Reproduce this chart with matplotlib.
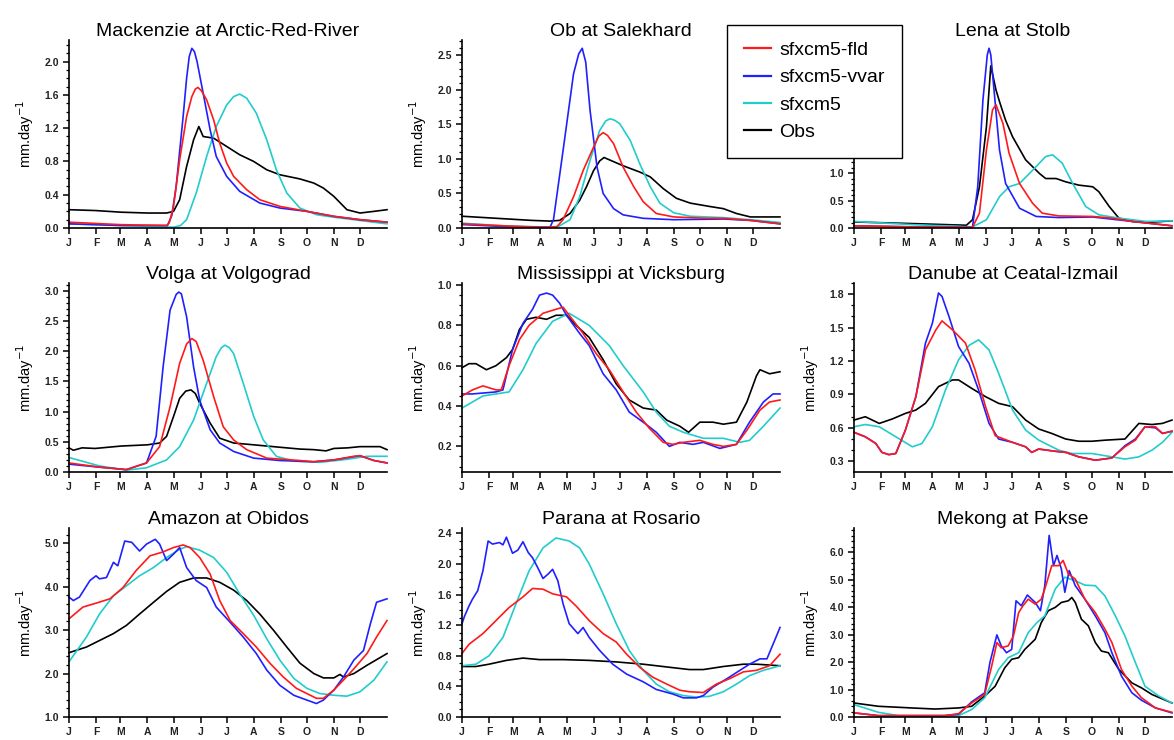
import matplotlib
matplotlib.use("Agg")
import matplotlib.pyplot as plt
from matplotlib.ticker import MultipleLocator, FixedLocator, FormatStrFormatter
from matplotlib.lines import Line2D

plt.rcParams['font.family'] = ['Liberation Sans', 'DejaVu Sans']

# month tick positions (day of year) and labels
month_days = [0, 31, 59, 90, 120, 151, 181, 212, 243, 273, 304, 334]
month_labels = ['J', 'F', 'M', 'A', 'M', 'J', 'J', 'A', 'S', 'O', 'N', 'D']

# ---- Mackenzie at Arctic-Red-River
mack_fld_x = [0, 60, 112, 115, 120, 127, 135, 141, 145, 148, 152, 158, 166, 173, 181, 189, 204, 219, 242, 273, 304, 334, 365]
mack_fld = [0.07, 0.04, 0.03, 0.06, 0.26, 0.82, 1.34, 1.58, 1.67, 1.69, 1.65, 1.54, 1.30, 1.02, 0.78, 0.62, 0.46, 0.34, 0.26, 0.20, 0.14, 0.10, 0.07]
mack_vvar_x = [0, 60, 113, 118, 123, 131, 135, 138, 141, 144, 147, 154, 162, 169, 181, 196, 219, 242, 273, 304, 334, 365]
mack_vvar = [0.05, 0.03, 0.03, 0.15, 0.50, 1.34, 1.80, 2.06, 2.16, 2.12, 2.00, 1.62, 1.18, 0.86, 0.62, 0.44, 0.30, 0.24, 0.20, 0.14, 0.10, 0.07]
mack_cm5_x = [0, 60, 120, 128, 135, 146, 158, 169, 181, 189, 196, 204, 215, 227, 238, 250, 265, 284, 304, 334, 365]
mack_cm5 = [0.05, 0.03, 0.01, 0.03, 0.10, 0.42, 0.86, 1.22, 1.48, 1.58, 1.61, 1.56, 1.38, 1.06, 0.70, 0.42, 0.24, 0.16, 0.13, 0.09, 0.05]
mack_obs_x = [0, 30, 60, 90, 112, 120, 127, 135, 143, 149, 154, 166, 181, 196, 212, 227, 242, 265, 281, 292, 304, 319, 334, 350, 365]
mack_obs = [0.22, 0.21, 0.19, 0.18, 0.18, 0.20, 0.34, 0.74, 1.06, 1.22, 1.10, 1.08, 0.98, 0.88, 0.80, 0.70, 0.64, 0.59, 0.54, 0.48, 0.38, 0.22, 0.18, 0.20, 0.22]

# ---- Ob at Salekhard
ob_fld_x = [0, 50, 93, 109, 116, 128, 139, 151, 157, 162, 167, 174, 185, 197, 208, 223, 243, 281, 300, 331, 365]
ob_fld = [0.06, 0.03, 0.01, 0.02, 0.12, 0.45, 0.83, 1.17, 1.33, 1.38, 1.34, 1.22, 0.88, 0.60, 0.38, 0.21, 0.16, 0.14, 0.14, 0.11, 0.06]
ob_vvar_x = [0, 50, 101, 105, 116, 128, 134, 138, 142, 147, 155, 162, 174, 185, 208, 243, 300, 331, 365]
ob_vvar = [0.05, 0.02, 0.01, 0.12, 1.12, 2.23, 2.52, 2.60, 2.40, 1.70, 0.88, 0.50, 0.28, 0.19, 0.14, 0.12, 0.13, 0.11, 0.06]
ob_cm5_x = [0, 50, 109, 124, 135, 147, 158, 165, 170, 175, 181, 193, 204, 216, 227, 243, 262, 300, 331, 365]
ob_cm5 = [0.07, 0.03, 0.01, 0.12, 0.45, 0.98, 1.41, 1.55, 1.58, 1.56, 1.51, 1.27, 0.93, 0.60, 0.36, 0.22, 0.17, 0.15, 0.12, 0.08]
ob_obs_x = [0, 40, 80, 101, 112, 124, 135, 143, 151, 158, 163, 185, 204, 216, 231, 246, 262, 285, 300, 315, 331, 365]
ob_obs = [0.17, 0.14, 0.11, 0.10, 0.11, 0.21, 0.40, 0.60, 0.83, 0.97, 1.02, 0.90, 0.81, 0.74, 0.57, 0.43, 0.36, 0.31, 0.28, 0.21, 0.16, 0.16]

# ---- Lena at Stolb
lena_fld_x = [0, 68, 136, 144, 152, 159, 163, 171, 178, 190, 205, 216, 235, 274, 296, 319, 365]
lena_fld = [0.04, 0.02, 0.01, 0.27, 1.42, 2.15, 2.24, 1.90, 1.36, 0.81, 0.45, 0.27, 0.22, 0.21, 0.18, 0.12, 0.04]
lena_vvar_x = [0, 68, 136, 142, 148, 153, 155, 157, 159, 167, 174, 190, 209, 235, 274, 319, 365]
lena_vvar = [0.04, 0.02, 0.01, 0.75, 2.33, 3.15, 3.27, 3.15, 2.81, 1.42, 0.81, 0.36, 0.21, 0.19, 0.20, 0.12, 0.04]
lena_cm5_x = [0, 68, 136, 152, 167, 178, 190, 205, 220, 228, 239, 251, 266, 281, 304, 335, 365]
lena_cm5 = [0.12, 0.06, 0.02, 0.15, 0.57, 0.75, 0.81, 1.05, 1.30, 1.33, 1.18, 0.81, 0.39, 0.24, 0.18, 0.12, 0.13]
lena_obs_x = [0, 68, 129, 136, 144, 152, 157, 163, 167, 174, 182, 197, 213, 220, 232, 243, 258, 274, 281, 293, 304, 319, 335, 365]
lena_obs = [0.11, 0.08, 0.05, 0.15, 0.75, 1.84, 2.95, 2.51, 2.30, 1.96, 1.66, 1.24, 0.99, 0.90, 0.90, 0.84, 0.78, 0.75, 0.66, 0.39, 0.18, 0.12, 0.10, 0.13]

# ---- Volga at Volgograd
volga_fld_x = [0, 35, 66, 89, 104, 116, 127, 135, 141, 146, 154, 166, 177, 189, 204, 227, 265, 281, 304, 327, 334, 350, 365]
volga_fld = [0.15, 0.08, 0.04, 0.15, 0.42, 1.08, 1.80, 2.12, 2.21, 2.16, 1.85, 1.25, 0.75, 0.53, 0.37, 0.23, 0.19, 0.17, 0.20, 0.26, 0.27, 0.19, 0.15]
volga_vvar_x = [0, 35, 66, 89, 100, 108, 116, 123, 126, 129, 135, 143, 150, 162, 173, 189, 212, 242, 281, 304, 334, 350, 365]
volga_vvar = [0.13, 0.08, 0.04, 0.15, 0.59, 1.74, 2.68, 2.94, 2.98, 2.95, 2.57, 1.74, 1.19, 0.70, 0.48, 0.34, 0.23, 0.19, 0.17, 0.20, 0.27, 0.19, 0.15]
volga_cm5_x = [0, 35, 66, 89, 112, 127, 143, 158, 169, 175, 179, 184, 189, 200, 212, 223, 238, 258, 288, 319, 342, 365]
volga_cm5 = [0.24, 0.10, 0.03, 0.07, 0.20, 0.42, 0.86, 1.47, 1.91, 2.06, 2.10, 2.06, 1.96, 1.47, 0.92, 0.53, 0.26, 0.18, 0.16, 0.21, 0.26, 0.26]
volga_obs_x = [0, 5, 15, 30, 45, 60, 75, 90, 104, 112, 120, 127, 134, 140, 145, 150, 162, 173, 189, 212, 242, 265, 281, 295, 304, 320, 334, 357, 365]
volga_obs = [0.40, 0.36, 0.40, 0.39, 0.41, 0.43, 0.44, 0.45, 0.48, 0.59, 0.92, 1.22, 1.34, 1.36, 1.30, 1.14, 0.81, 0.56, 0.48, 0.45, 0.41, 0.38, 0.37, 0.35, 0.39, 0.40, 0.42, 0.42, 0.37]

# ---- Mississippi at Vicksburg
miss_fld_x = [0, 12, 24, 39, 45, 54, 66, 77, 93, 108, 116, 123, 139, 154, 169, 185, 200, 215, 231, 242, 254, 273, 288, 300, 315, 327, 342, 353, 365]
miss_fld = [0.45, 0.48, 0.50, 0.48, 0.48, 0.60, 0.73, 0.80, 0.86, 0.88, 0.89, 0.85, 0.76, 0.66, 0.58, 0.47, 0.37, 0.29, 0.22, 0.21, 0.22, 0.23, 0.21, 0.20, 0.21, 0.28, 0.38, 0.42, 0.43]
miss_vvar_x = [0, 12, 39, 47, 58, 70, 81, 89, 97, 104, 112, 120, 135, 146, 162, 177, 192, 208, 223, 238, 250, 265, 277, 296, 315, 330, 346, 357, 365]
miss_vvar = [0.46, 0.46, 0.47, 0.48, 0.68, 0.81, 0.88, 0.95, 0.96, 0.95, 0.91, 0.85, 0.76, 0.70, 0.56, 0.48, 0.37, 0.32, 0.27, 0.20, 0.22, 0.21, 0.22, 0.19, 0.21, 0.32, 0.42, 0.46, 0.46]
miss_cm5_x = [0, 24, 39, 54, 70, 85, 104, 123, 146, 169, 185, 208, 223, 238, 254, 277, 300, 319, 330, 346, 365]
miss_cm5 = [0.39, 0.45, 0.46, 0.47, 0.58, 0.71, 0.82, 0.86, 0.80, 0.70, 0.60, 0.47, 0.37, 0.30, 0.27, 0.24, 0.24, 0.22, 0.23, 0.30, 0.39]
miss_obs_x = [0, 8, 16, 28, 39, 51, 58, 66, 74, 85, 97, 108, 120, 131, 146, 162, 177, 192, 208, 223, 235, 250, 260, 273, 288, 300, 315, 327, 338, 342, 353, 365]
miss_obs = [0.59, 0.61, 0.61, 0.58, 0.60, 0.64, 0.68, 0.78, 0.83, 0.84, 0.83, 0.85, 0.85, 0.80, 0.74, 0.63, 0.51, 0.43, 0.39, 0.38, 0.33, 0.30, 0.27, 0.32, 0.32, 0.31, 0.32, 0.42, 0.55, 0.58, 0.56, 0.57]

# ---- Danube at Ceatal-Izmail
dan_fld_x = [0, 13, 25, 32, 40, 48, 59, 71, 82, 94, 101, 113, 128, 139, 151, 162, 182, 197, 204, 212, 231, 243, 258, 277, 296, 311, 323, 334, 346, 354, 365]
dan_fld = [0.56, 0.52, 0.46, 0.38, 0.36, 0.37, 0.58, 0.88, 1.30, 1.48, 1.56, 1.48, 1.36, 1.12, 0.79, 0.53, 0.47, 0.43, 0.38, 0.41, 0.39, 0.38, 0.34, 0.31, 0.33, 0.43, 0.49, 0.61, 0.61, 0.55, 0.57]
dan_vvar_x = [0, 13, 25, 32, 40, 48, 59, 71, 82, 90, 97, 101, 109, 120, 132, 143, 155, 166, 182, 197, 204, 212, 231, 243, 258, 277, 296, 311, 323, 334, 346, 354, 365]
dan_vvar = [0.56, 0.52, 0.46, 0.38, 0.36, 0.37, 0.58, 0.88, 1.36, 1.54, 1.81, 1.78, 1.60, 1.33, 1.18, 0.94, 0.64, 0.50, 0.47, 0.43, 0.38, 0.41, 0.39, 0.38, 0.34, 0.31, 0.33, 0.44, 0.50, 0.61, 0.60, 0.55, 0.57]
dan_cm5_x = [0, 13, 29, 48, 67, 78, 90, 105, 120, 132, 143, 155, 166, 182, 197, 212, 235, 250, 273, 296, 311, 327, 342, 354, 365]
dan_cm5 = [0.61, 0.63, 0.61, 0.52, 0.43, 0.46, 0.61, 0.94, 1.21, 1.34, 1.39, 1.30, 1.09, 0.76, 0.58, 0.49, 0.40, 0.37, 0.37, 0.34, 0.32, 0.34, 0.40, 0.47, 0.56]
dan_obs_x = [0, 13, 29, 44, 59, 71, 82, 97, 113, 120, 136, 151, 166, 182, 197, 212, 227, 243, 258, 273, 289, 311, 327, 342, 354, 365]
dan_obs = [0.67, 0.70, 0.64, 0.68, 0.73, 0.76, 0.82, 0.97, 1.03, 1.03, 0.95, 0.88, 0.82, 0.79, 0.67, 0.59, 0.55, 0.50, 0.48, 0.48, 0.49, 0.50, 0.64, 0.63, 0.64, 0.67]

# ---- Amazon at Obidos
amaz_fld_x = [0, 16, 31, 47, 62, 77, 93, 108, 120, 131, 139, 150, 162, 173, 185, 200, 215, 231, 246, 261, 273, 284, 292, 304, 315, 327, 342, 353, 365]
amaz_fld = [3.26, 3.53, 3.62, 3.72, 3.98, 4.37, 4.71, 4.80, 4.90, 4.96, 4.90, 4.67, 4.29, 3.68, 3.22, 2.92, 2.61, 2.23, 1.92, 1.66, 1.54, 1.43, 1.43, 1.62, 1.85, 2.11, 2.46, 2.84, 3.22]
amaz_vvar_x = [0, 5, 12, 24, 31, 35, 43, 51, 56, 64, 72, 81, 89, 99, 104, 112, 120, 127, 135, 146, 158, 169, 185, 200, 215, 227, 242, 258, 273, 284, 292, 304, 315, 327, 338, 346, 353, 365]
amaz_vvar = [3.76, 3.68, 3.76, 4.14, 4.25, 4.18, 4.21, 4.56, 4.48, 5.05, 5.02, 4.82, 4.98, 5.09, 4.98, 4.60, 4.75, 4.90, 4.44, 4.14, 3.98, 3.53, 3.18, 2.84, 2.46, 2.08, 1.73, 1.50, 1.39, 1.31, 1.39, 1.62, 1.92, 2.31, 2.53, 3.15, 3.64, 3.72]
amaz_cm5_x = [0, 20, 35, 51, 66, 81, 97, 112, 127, 135, 150, 166, 181, 196, 212, 227, 242, 258, 273, 288, 304, 319, 334, 350, 365]
amaz_cm5 = [2.27, 2.84, 3.37, 3.79, 4.02, 4.25, 4.44, 4.67, 4.86, 4.92, 4.84, 4.67, 4.33, 3.83, 3.34, 2.80, 2.31, 1.89, 1.66, 1.54, 1.50, 1.48, 1.58, 1.85, 2.27]
amaz_obs_x = [0, 20, 35, 51, 66, 81, 97, 112, 127, 143, 158, 173, 189, 204, 219, 235, 250, 265, 281, 292, 304, 311, 315, 327, 342, 365]
amaz_obs = [2.48, 2.61, 2.76, 2.92, 3.11, 3.37, 3.64, 3.89, 4.10, 4.20, 4.20, 4.10, 3.92, 3.68, 3.37, 2.99, 2.61, 2.24, 2.00, 1.90, 1.90, 1.98, 1.92, 2.00, 2.19, 2.46]

# ---- Parana at Rosario
par_fld_x = [0, 8, 24, 39, 54, 70, 81, 93, 104, 120, 131, 146, 162, 177, 189, 204, 219, 235, 250, 261, 277, 292, 307, 323, 338, 353, 365]
par_fld = [0.83, 0.95, 1.09, 1.26, 1.43, 1.57, 1.68, 1.67, 1.61, 1.57, 1.45, 1.26, 1.09, 0.98, 0.82, 0.65, 0.52, 0.43, 0.35, 0.33, 0.32, 0.43, 0.50, 0.59, 0.61, 0.67, 0.82]
par_vvar_x = [0, 3, 8, 12, 18, 24, 30, 35, 43, 47, 51, 58, 64, 70, 76, 81, 87, 93, 99, 104, 110, 116, 123, 133, 139, 146, 158, 173, 189, 208, 223, 242, 254, 269, 277, 288, 304, 319, 330, 342, 350, 357, 365]
par_vvar = [1.22, 1.32, 1.45, 1.54, 1.65, 1.91, 2.30, 2.26, 2.28, 2.25, 2.35, 2.14, 2.18, 2.29, 2.15, 2.08, 1.95, 1.81, 1.87, 1.93, 1.78, 1.48, 1.22, 1.09, 1.17, 1.04, 0.87, 0.69, 0.56, 0.46, 0.36, 0.30, 0.25, 0.25, 0.28, 0.39, 0.50, 0.61, 0.69, 0.76, 0.76, 0.95, 1.17]
par_cm5_x = [0, 16, 31, 47, 62, 77, 93, 108, 123, 135, 146, 162, 177, 192, 208, 223, 238, 254, 269, 284, 300, 315, 330, 346, 365]
par_cm5 = [0.67, 0.69, 0.80, 1.04, 1.48, 1.91, 2.21, 2.34, 2.30, 2.21, 2.00, 1.61, 1.22, 0.87, 0.61, 0.43, 0.33, 0.28, 0.26, 0.27, 0.33, 0.43, 0.54, 0.61, 0.67]
par_obs_x = [0, 16, 31, 51, 70, 89, 116, 146, 177, 208, 238, 261, 277, 300, 323, 338, 365]
par_obs = [0.66, 0.66, 0.69, 0.74, 0.77, 0.75, 0.75, 0.74, 0.72, 0.69, 0.65, 0.62, 0.62, 0.66, 0.69, 0.69, 0.67]

# ---- Mekong at Pakse
mek_fld_x = [0, 28, 104, 120, 135, 150, 158, 164, 169, 177, 183, 189, 194, 200, 208, 215, 219, 227, 235, 240, 246, 254, 265, 277, 288, 296, 307, 319, 330, 346, 365]
mek_fld = [0.15, 0.05, 0.05, 0.12, 0.51, 0.82, 1.85, 2.71, 2.52, 2.59, 2.95, 3.80, 4.05, 4.29, 4.11, 4.29, 4.66, 5.51, 5.51, 5.70, 5.21, 5.02, 4.29, 3.80, 3.20, 2.71, 1.73, 1.12, 0.70, 0.33, 0.17]
mek_vvar_x = [0, 28, 104, 120, 135, 150, 156, 164, 169, 175, 181, 186, 192, 199, 208, 214, 219, 224, 229, 233, 238, 242, 247, 254, 265, 277, 288, 296, 307, 319, 330, 346, 365]
mek_vvar = [0.15, 0.05, 0.05, 0.10, 0.55, 0.88, 1.98, 2.99, 2.59, 2.34, 2.46, 4.23, 4.05, 4.44, 4.17, 3.87, 4.78, 6.61, 5.51, 5.88, 5.39, 4.54, 5.33, 4.78, 4.29, 3.68, 3.07, 2.34, 1.49, 0.88, 0.61, 0.33, 0.15]
mek_cm5_x = [0, 28, 51, 120, 135, 150, 166, 177, 189, 200, 210, 219, 231, 242, 254, 265, 277, 288, 300, 311, 323, 334, 350, 365]
mek_cm5 = [0.45, 0.17, 0.05, 0.05, 0.27, 0.70, 1.73, 2.16, 2.34, 3.07, 3.44, 3.68, 4.66, 5.09, 4.96, 4.80, 4.78, 4.41, 3.68, 2.95, 1.98, 1.12, 0.76, 0.51]
mek_obs_x = [0, 28, 66, 93, 120, 135, 150, 162, 173, 181, 189, 196, 208, 215, 223, 231, 238, 246, 250, 254, 261, 269, 277, 284, 292, 304, 319, 330, 342, 365]
mek_obs = [0.51, 0.39, 0.33, 0.29, 0.33, 0.39, 0.76, 1.12, 1.79, 2.10, 2.16, 2.46, 2.83, 3.44, 3.87, 3.99, 4.17, 4.23, 4.35, 4.17, 3.56, 3.32, 2.71, 2.40, 2.34, 1.73, 1.24, 1.06, 0.82, 0.51]

titles = ["Mackenzie at Arctic-Red-River", "Ob at Salekhard", "Lena at Stolb",
          "Volga at Volgograd", "Mississippi at Vicksburg", "Danube at Ceatal-Izmail",
          "Amazon at Obidos", "Parana at Rosario", "Mekong at Pakse"]
series_labels = ['sfxcm5-fld', 'sfxcm5-vvar', 'sfxcm5', 'Obs']

data = [
    [(mack_fld_x, mack_fld), (mack_vvar_x, mack_vvar), (mack_cm5_x, mack_cm5), (mack_obs_x, mack_obs)],
    [(ob_fld_x, ob_fld), (ob_vvar_x, ob_vvar), (ob_cm5_x, ob_cm5), (ob_obs_x, ob_obs)],
    [(lena_fld_x, lena_fld), (lena_vvar_x, lena_vvar), (lena_cm5_x, lena_cm5), (lena_obs_x, lena_obs)],
    [(volga_fld_x, volga_fld), (volga_vvar_x, volga_vvar), (volga_cm5_x, volga_cm5), (volga_obs_x, volga_obs)],
    [(miss_fld_x, miss_fld), (miss_vvar_x, miss_vvar), (miss_cm5_x, miss_cm5), (miss_obs_x, miss_obs)],
    [(dan_fld_x, dan_fld), (dan_vvar_x, dan_vvar), (dan_cm5_x, dan_cm5), (dan_obs_x, dan_obs)],
    [(amaz_fld_x, amaz_fld), (amaz_vvar_x, amaz_vvar), (amaz_cm5_x, amaz_cm5), (amaz_obs_x, amaz_obs)],
    [(par_fld_x, par_fld), (par_vvar_x, par_vvar), (par_cm5_x, par_cm5), (par_obs_x, par_obs)],
    [(mek_fld_x, mek_fld), (mek_vvar_x, mek_vvar), (mek_cm5_x, mek_cm5), (mek_obs_x, mek_obs)],
]

colors = ['#ff1a1a', '#2020ff', '#22cccc', 'black']
draw_order = [3, 2, 1, 0]

# y range and tick spacing per panel: (ymin, ymax, major, minor)
yaxes = [(0, 2.26, 0.4, 0.1), (0, 2.72, 0.5, 0.1), (0, 3.42, 0.5, 0.1),
         (0, 3.13, 0.5, 0.1), (0.073, 1.01, 0.2, 0.05), (0.204, 1.9, 0.3, 0.1),
         (1.0, 5.35, 1.0, 0.2), (0, 2.47, 0.4, 0.1), (0, 6.88, 1.0, 0.2)]

W, H = 1174, 740
fig = plt.figure(figsize=(W / 100, H / 100), dpi=100)

lefts = [69, 462, 854]
rows = [(40, 228), (283, 472), (528, 717)]

for i in range(9):
    r, c = divmod(i, 3)
    top, bot = rows[r]
    ax = fig.add_axes([lefts[c] / W, 1 - bot / H, 318 / W, (bot - top) / H])
    for k in draw_order:
        xs, ys = data[i][k]
        ax.plot(xs, ys, color=colors[k], lw=1.2, solid_joinstyle='round', clip_on=False)
    ymin, ymax, maj, mnr = yaxes[i]
    ax.set_xlim(0, 365)
    ax.set_ylim(ymin, ymax)
    ax.xaxis.set_major_locator(FixedLocator(month_days))
    ax.set_xticklabels(month_labels)
    ax.yaxis.set_major_locator(MultipleLocator(maj))
    ax.yaxis.set_minor_locator(MultipleLocator(mnr))
    ax.yaxis.set_major_formatter(FormatStrFormatter('%.1f'))
    for s in ['top', 'right']:
        ax.spines[s].set_visible(False)
    for s in ['left', 'bottom']:
        ax.spines[s].set_linewidth(1.2)
    ax.tick_params(which='major', direction='out', length=4.5, width=1.1, labelsize=7.5, pad=2.5)
    ax.tick_params(which='minor', direction='out', length=2.5, width=0.9)
    for lab in ax.get_xticklabels() + ax.get_yticklabels():
        lab.set_fontweight('bold')
        lab.set_color('#222222')
    ax.set_title(titles[i], fontsize=14, pad=3)
    ax.set_ylabel('mm.day$^{-1}$', fontsize=10.5, labelpad=6)
    if i == 2:
        # the legend box sits over this label in the original
        ax.yaxis.set_label_coords(-0.12, 0.56)
    ax.set_facecolor('none')

handles = [Line2D([], [], color=colors[k], lw=1.6) for k in range(4)]
leg = fig.legend(handles, series_labels, loc='upper left', bbox_to_anchor=(727 / W, 1 - 25 / H),
                 borderaxespad=0, fontsize=14, frameon=True, fancybox=False, framealpha=1,
                 edgecolor='black', borderpad=0.85, handlelength=1.4, handletextpad=0.45,
                 labelspacing=0.5)
leg.get_frame().set_linewidth(1.0)
leg.set_zorder(10)

fig.savefig('out.png', dpi=100)
